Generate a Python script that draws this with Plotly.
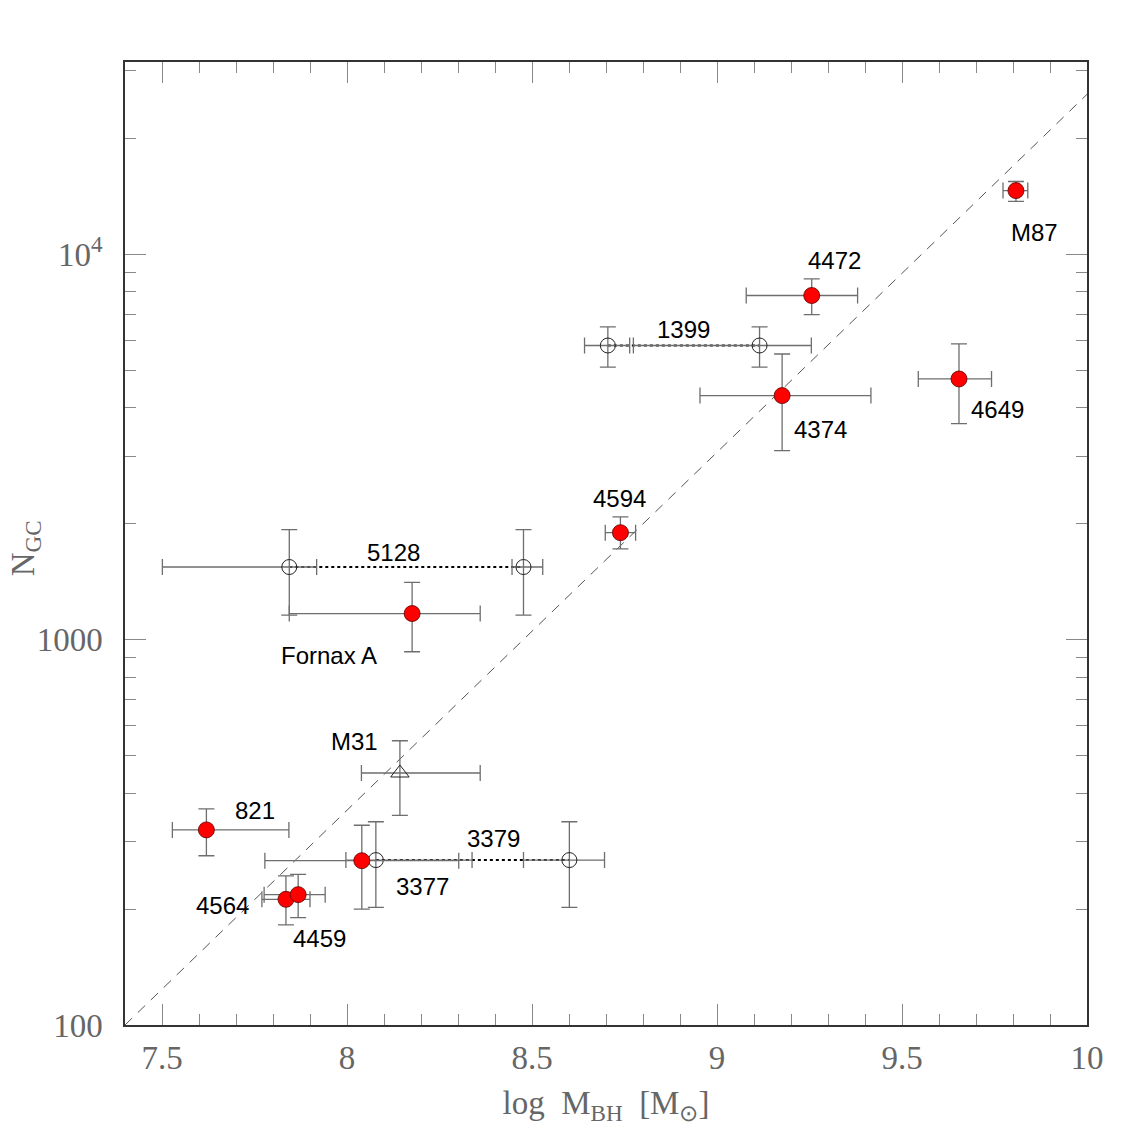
import plotly.graph_objects as go
import math

# ---------------- data ----------------
# Filled (red) galaxies
names_f = ["M87", "4472", "4374", "4649", "4594", "Fornax A", "821", "3377", "4564", "4459"]
logM_f = [9.808, 9.256, 9.176, 9.654, 8.739, 8.176, 7.620, 8.040, 7.835, 7.868]
logM_f_lo = [0.035, 0.177, 0.222, 0.110, 0.041, 0.332, 0.092, 0.262, 0.065, 0.092]
logM_f_hi = [0.032, 0.124, 0.240, 0.088, 0.041, 0.184, 0.223, 0.262, 0.065, 0.073]
N_f = [14660, 7830, 4305, 4755, 1897, 1170, 321, 267, 212, 218]
N_f_up = [15480, 8650, 5520, 5865, 2085, 1409, 364, 330, 244, 246]
N_f_dn = [13740, 6985, 3097, 3640, 1722, 931, 275, 200, 182, 190]

# Open-circle pairs (two mass estimates joined by dotted line)
pair_names = ["1399", "5128", "3379"]
pair_logM = [[8.705, 9.115], [7.844, 8.477], [8.078, 8.601]]
pair_logM_lo = [[0.063, 0.341], [0.343, 0.031], [0.081, 0.124]]
pair_logM_hi = [[0.059, 0.140], [0.074, 0.052], [0.260, 0.095]]
pair_N = [5808, 1545, 268]
pair_N_up = [6490, 1931, 337]
pair_N_dn = [5105, 1159, 202]

# M31 (open triangle)
m31_name = "M31"
m31_logM = [8.143]
m31_logM_lo = [0.104]
m31_logM_hi = [0.217]
m31_N = [451]
m31_N_up = [547]
m31_N_dn = [350]

# Fit line
fit_x = [7.4, 10.0]
fit_N = [100, 26060]

# Axis ticks
x_ticks = [7.5, 8, 8.5, 9, 9.5, 10]
x_ticktext = ["7.5", "8", "8.5", "9", "9.5", "10"]
y_ticks = [100, 1000, 10000]
y_ticktext = ["100", "1000", "10<sup>4</sup>"]

# ---------------- label offsets (px) ----------------
off_f = {"M87": (19, -42), "4472": (23, 35), "4374": (38, -34), "4649": (39, -31),
         "4594": (-1, 34), "Fornax A": (-83, -42), "821": (49, 19), "3377": (61, -26),
         "4564": (-63, -6), "4459": (21, -44)}
off_pair = {"1399": (0, 16), "5128": (-13, 15), "3379": (21, 22)}
off_m31 = (-45, 32)

ERR_COL = "#6e6e6e"
fig = go.Figure()

# fit line
fig.add_trace(go.Scatter(x=fit_x, y=fit_N, mode="lines",
                         line=dict(color="#555555", width=1, dash="10px,8px"),
                         hoverinfo="skip", showlegend=False))

# pairs
for i, nm in enumerate(pair_names):
    fig.add_trace(go.Scatter(x=pair_logM[i], y=[pair_N[i]] * 2, mode="lines",
                             line=dict(color="black", width=2, dash="dot"),
                             showlegend=False, hoverinfo="skip"))
    fig.add_trace(go.Scatter(
        x=pair_logM[i], y=[pair_N[i]] * 2, mode="markers",
        marker=dict(symbol="circle-open", size=15, color="#222222", line=dict(width=1)),
        error_x=dict(type="data", symmetric=False, array=pair_logM_hi[i], arrayminus=pair_logM_lo[i],
                     color=ERR_COL, thickness=1.3, width=8),
        error_y=dict(type="data", symmetric=False,
                     array=[pair_N_up[i] - pair_N[i]] * 2, arrayminus=[pair_N[i] - pair_N_dn[i]] * 2,
                     color=ERR_COL, thickness=1.3, width=8),
        showlegend=False, name=nm))

# M31
fig.add_trace(go.Scatter(
    x=m31_logM, y=m31_N, mode="markers",
    marker=dict(symbol="triangle-up-open", size=16, color="#222222", line=dict(width=1)),
    error_x=dict(type="data", symmetric=False, array=m31_logM_hi, arrayminus=m31_logM_lo,
                 color=ERR_COL, thickness=1.3, width=8),
    error_y=dict(type="data", symmetric=False,
                 array=[u - n for u, n in zip(m31_N_up, m31_N)],
                 arrayminus=[n - d for n, d in zip(m31_N, m31_N_dn)],
                 color=ERR_COL, thickness=1.3, width=8),
    showlegend=False, name=m31_name))

# filled
fig.add_trace(go.Scatter(
    x=logM_f, y=N_f, mode="markers",
    marker=dict(symbol="circle", size=16, color="#ff0000", line=dict(color="#5a0000", width=0.8)),
    error_x=dict(type="data", symmetric=False, array=logM_f_hi, arrayminus=logM_f_lo,
                 color=ERR_COL, thickness=1.3, width=8),
    error_y=dict(type="data", symmetric=False,
                 array=[u - n for u, n in zip(N_f_up, N_f)],
                 arrayminus=[n - d for n, d in zip(N_f, N_f_dn)],
                 color=ERR_COL, thickness=1.3, width=8),
    showlegend=False, text=names_f))

# labels
LBL_FONT = dict(family="Liberation Sans, Arial, sans-serif", size=24, color="black")
for nm, x, n in zip(names_f, logM_f, N_f):
    dx, dy = off_f[nm]
    fig.add_annotation(x=x, y=math.log10(n), text=nm, showarrow=False, xshift=dx, yshift=dy, font=LBL_FONT)
for i, nm in enumerate(pair_names):
    dx, dy = off_pair[nm]
    fig.add_annotation(x=sum(pair_logM[i]) / 2, y=math.log10(pair_N[i]), text=nm, showarrow=False,
                       xshift=dx, yshift=dy, font=LBL_FONT)
fig.add_annotation(x=m31_logM[0], y=math.log10(m31_N[0]), text=m31_name, showarrow=False,
                   xshift=off_m31[0], yshift=off_m31[1], font=LBL_FONT)

AX_FONT = dict(family="Liberation Serif, Times New Roman, serif", size=33, color="#666666")
x_minor = [round(7.4 + 0.1 * k, 2) for k in range(27)]
y_minor = [m * 10 ** e for e in (2, 3, 4) for m in range(2, 10) if m * 10 ** e < 31623]

fig.update_xaxes(range=[7.4, 10], tickvals=x_ticks, ticktext=x_ticktext, ticks="inside", ticklen=21,
                 tickcolor="#888888", tickwidth=1.2, showline=True, linecolor="#333333", linewidth=1.5,
                 mirror="allticks", showgrid=False, zeroline=False, tickfont=AX_FONT,
                 ticklabelstandoff=3, automargin=False,
                 minor=dict(tickvals=x_minor, ticks="inside", ticklen=11, tickcolor="#888888", tickwidth=1.2,
                            showgrid=False),
                 title=dict(text="log  M<sub>BH</sub>  [M<sub>⊙</sub>]", font=AX_FONT, standoff=16))
fig.update_yaxes(type="log", range=[2, 4.5], tickvals=y_ticks, ticktext=y_ticktext, ticks="inside", ticklen=21,
                 tickcolor="#888888", tickwidth=1.2, showline=True, linecolor="#333333", linewidth=1.5,
                 mirror="allticks", showgrid=False, zeroline=False, tickfont=AX_FONT,
                 ticklabelstandoff=14, automargin=False,
                 minor=dict(tickvals=y_minor, ticks="inside", ticklen=11, tickcolor="#888888", tickwidth=1.2,
                            showgrid=False))

# y-axis title as a rotated annotation (placed left of the tick labels)
fig.add_annotation(text="N<sub>GC</sub>", xref="paper", yref="paper", x=-0.104, y=0.495,
                   xanchor="center", yanchor="middle", textangle=-90, showarrow=False, font=AX_FONT)

fig.update_layout(width=1148, height=1148, plot_bgcolor="white", paper_bgcolor="white",
                  margin=dict(l=117, r=69, t=54, b=131), showlegend=False)

fig.write_html("out.html")
